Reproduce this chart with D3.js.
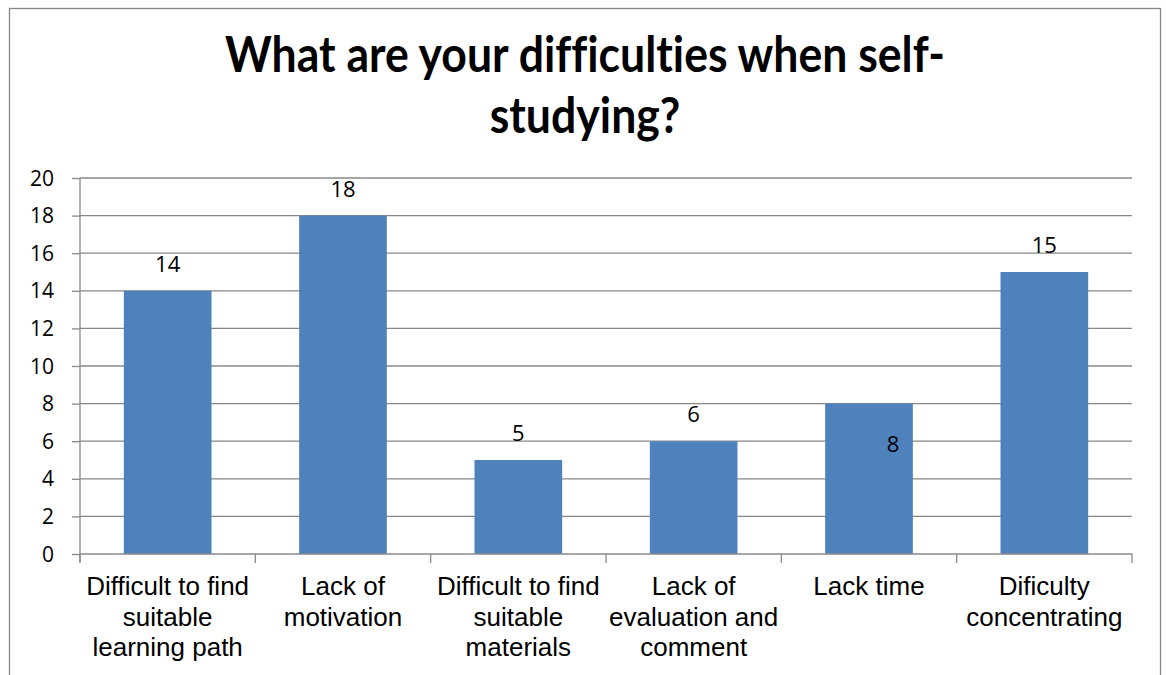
<!DOCTYPE html>
<html>
<head>
<meta charset="utf-8">
<script src="https://cdn.jsdelivr.net/npm/d3@7"></script>
<style>
  html, body { margin: 0; padding: 0; background: #fff; }
  svg { display: block; }
  text { font-variant-ligatures: none; }
</style>
</head>
<body>
<script>
const titleLines = ["What are your difficulties when self-", "studying?"];
const categories = [
  "Difficult to find suitable learning path",
  "Lack of motivation",
  "Difficult to find suitable materials",
  "Lack of evaluation and comment",
  "Lack time",
  "Dificulty concentrating"
];
const categoryLines = [
  ["Difficult to find", "suitable", "learning path"],
  ["Lack of", "motivation"],
  ["Difficult to find", "suitable", "materials"],
  ["Lack of", "evaluation and", "comment"],
  ["Lack time"],
  ["Dificulty", "concentrating"]
];
const values = [14, 18, 5, 6, 8, 15];
const yTicks = [0, 2, 4, 6, 8, 10, 12, 14, 16, 18, 20];

(function () {
const W = 1166, H = 675;
const svg = d3.select("body").append("svg").attr("width", W).attr("height", H);

// outer border
svg.append("rect").attr("x", 9.5).attr("y", 8.5).attr("width", 1151).attr("height", 700)
  .attr("fill", "#fff").attr("stroke", "#878787").attr("stroke-width", 1.3);

// title (width-fitted, slightly stretched vertically to match the reference's taller face)
const title = svg.append("g");
const tl1 = title.append("text").attr("text-anchor", "middle")
  .attr("font-family", "Lato, 'Open Sans', sans-serif").attr("font-weight", "bold")
  .attr("font-size", 40).attr("fill", "#000").text(titleLines[0]);
const len = tl1.node().getComputedTextLength();
const fs = 40 * 720 / len;
const sy = 1.12;
tl1.attr("font-size", fs).attr("transform", `translate(585,72) scale(1,${sy})`);
title.append("text").attr("text-anchor", "middle")
  .attr("transform", `translate(585,133) scale(1,${sy})`)
  .attr("font-family", "Lato, 'Open Sans', sans-serif").attr("font-weight", "bold")
  .attr("font-size", fs).attr("fill", "#000").text(titleLines[1]);

const pLeft = 80, pRight = 1132, pTop = 178, pBottom = 554;
const x = d3.scaleBand().domain(categories).range([pLeft, pRight]).paddingInner(0.5).paddingOuter(0.25);
const y = d3.scaleLinear().domain([0, 20]).range([pBottom, pTop]);

const gridColor = "#888888";

// gridlines
svg.append("g").selectAll("line").data(yTicks.filter(d => d > 0)).join("line")
  .attr("x1", pLeft).attr("x2", pRight)
  .attr("y1", d => y(d)).attr("y2", d => y(d))
  .attr("stroke", gridColor).attr("stroke-width", 1.3);

// bars
svg.append("g").selectAll("rect").data(values).join("rect")
  .attr("x", (d, i) => x(categories[i]))
  .attr("width", x.bandwidth())
  .attr("y", d => y(d))
  .attr("height", d => y(0) - y(d))
  .attr("fill", "#4F81BD");

// y axis
const yAxis = d3.axisLeft(y).tickValues(yTicks).tickSize(8).tickPadding(18).tickSizeOuter(0);
const gy = svg.append("g").attr("transform", `translate(${pLeft},0)`).call(yAxis);
gy.select(".domain").remove();
gy.append("line").attr("x1", 0).attr("x2", 0).attr("y1", pTop).attr("y2", pBottom + 8)
  .attr("stroke", gridColor).attr("stroke-width", 1.3);
gy.selectAll(".tick line").attr("stroke", gridColor).attr("stroke-width", 1.3);
gy.selectAll(".tick text").attr("font-family", "'Open Sans', sans-serif")
  .attr("font-size", 21).attr("fill", "#000").attr("dy", "0.34em");

// x axis line and boundary ticks
const gx = svg.append("g");
gx.append("line").attr("x1", pLeft).attr("x2", pRight).attr("y1", pBottom).attr("y2", pBottom)
  .attr("stroke", gridColor).attr("stroke-width", 1.3);
const step = x.step();
const bounds = d3.range(categories.length + 1).map(i => x(categories[0]) - x.paddingOuter() * step + i * step);
gx.selectAll(".bt").data(bounds).join("line").attr("class", "bt")
  .attr("x1", d => d).attr("x2", d => d).attr("y1", pBottom).attr("y2", pBottom + 9)
  .attr("stroke", gridColor).attr("stroke-width", 1.3);

// category labels
const cl = svg.append("g");
categoryLines.forEach((lines, i) => {
  const cx = x(categories[i]) + x.bandwidth() / 2;
  const t = cl.append("text").attr("text-anchor", "middle")
    .attr("font-family", "'Liberation Sans', Arial, sans-serif").attr("font-size", 26).attr("fill", "#000");
  lines.forEach((ln, j) => {
    t.append("tspan").attr("x", cx).attr("y", 595 + j * 30.5).text(ln);
  });
});

// data labels
const labelOffsets = [[0, 0], [0, 0], [0, 0], [0, 0], [24, 67], [0, 0]];
svg.append("g").selectAll("text").data(values).join("text")
  .attr("x", (d, i) => x(categories[i]) + x.bandwidth() / 2 + labelOffsets[i][0])
  .attr("y", (d, i) => y(d) - 19 + labelOffsets[i][1])
  .attr("text-anchor", "middle")
  .attr("font-family", "'Open Sans', sans-serif").attr("font-size", 22).attr("fill", "#000")
  .text(d => d);
})();
</script>
</body>
</html>
